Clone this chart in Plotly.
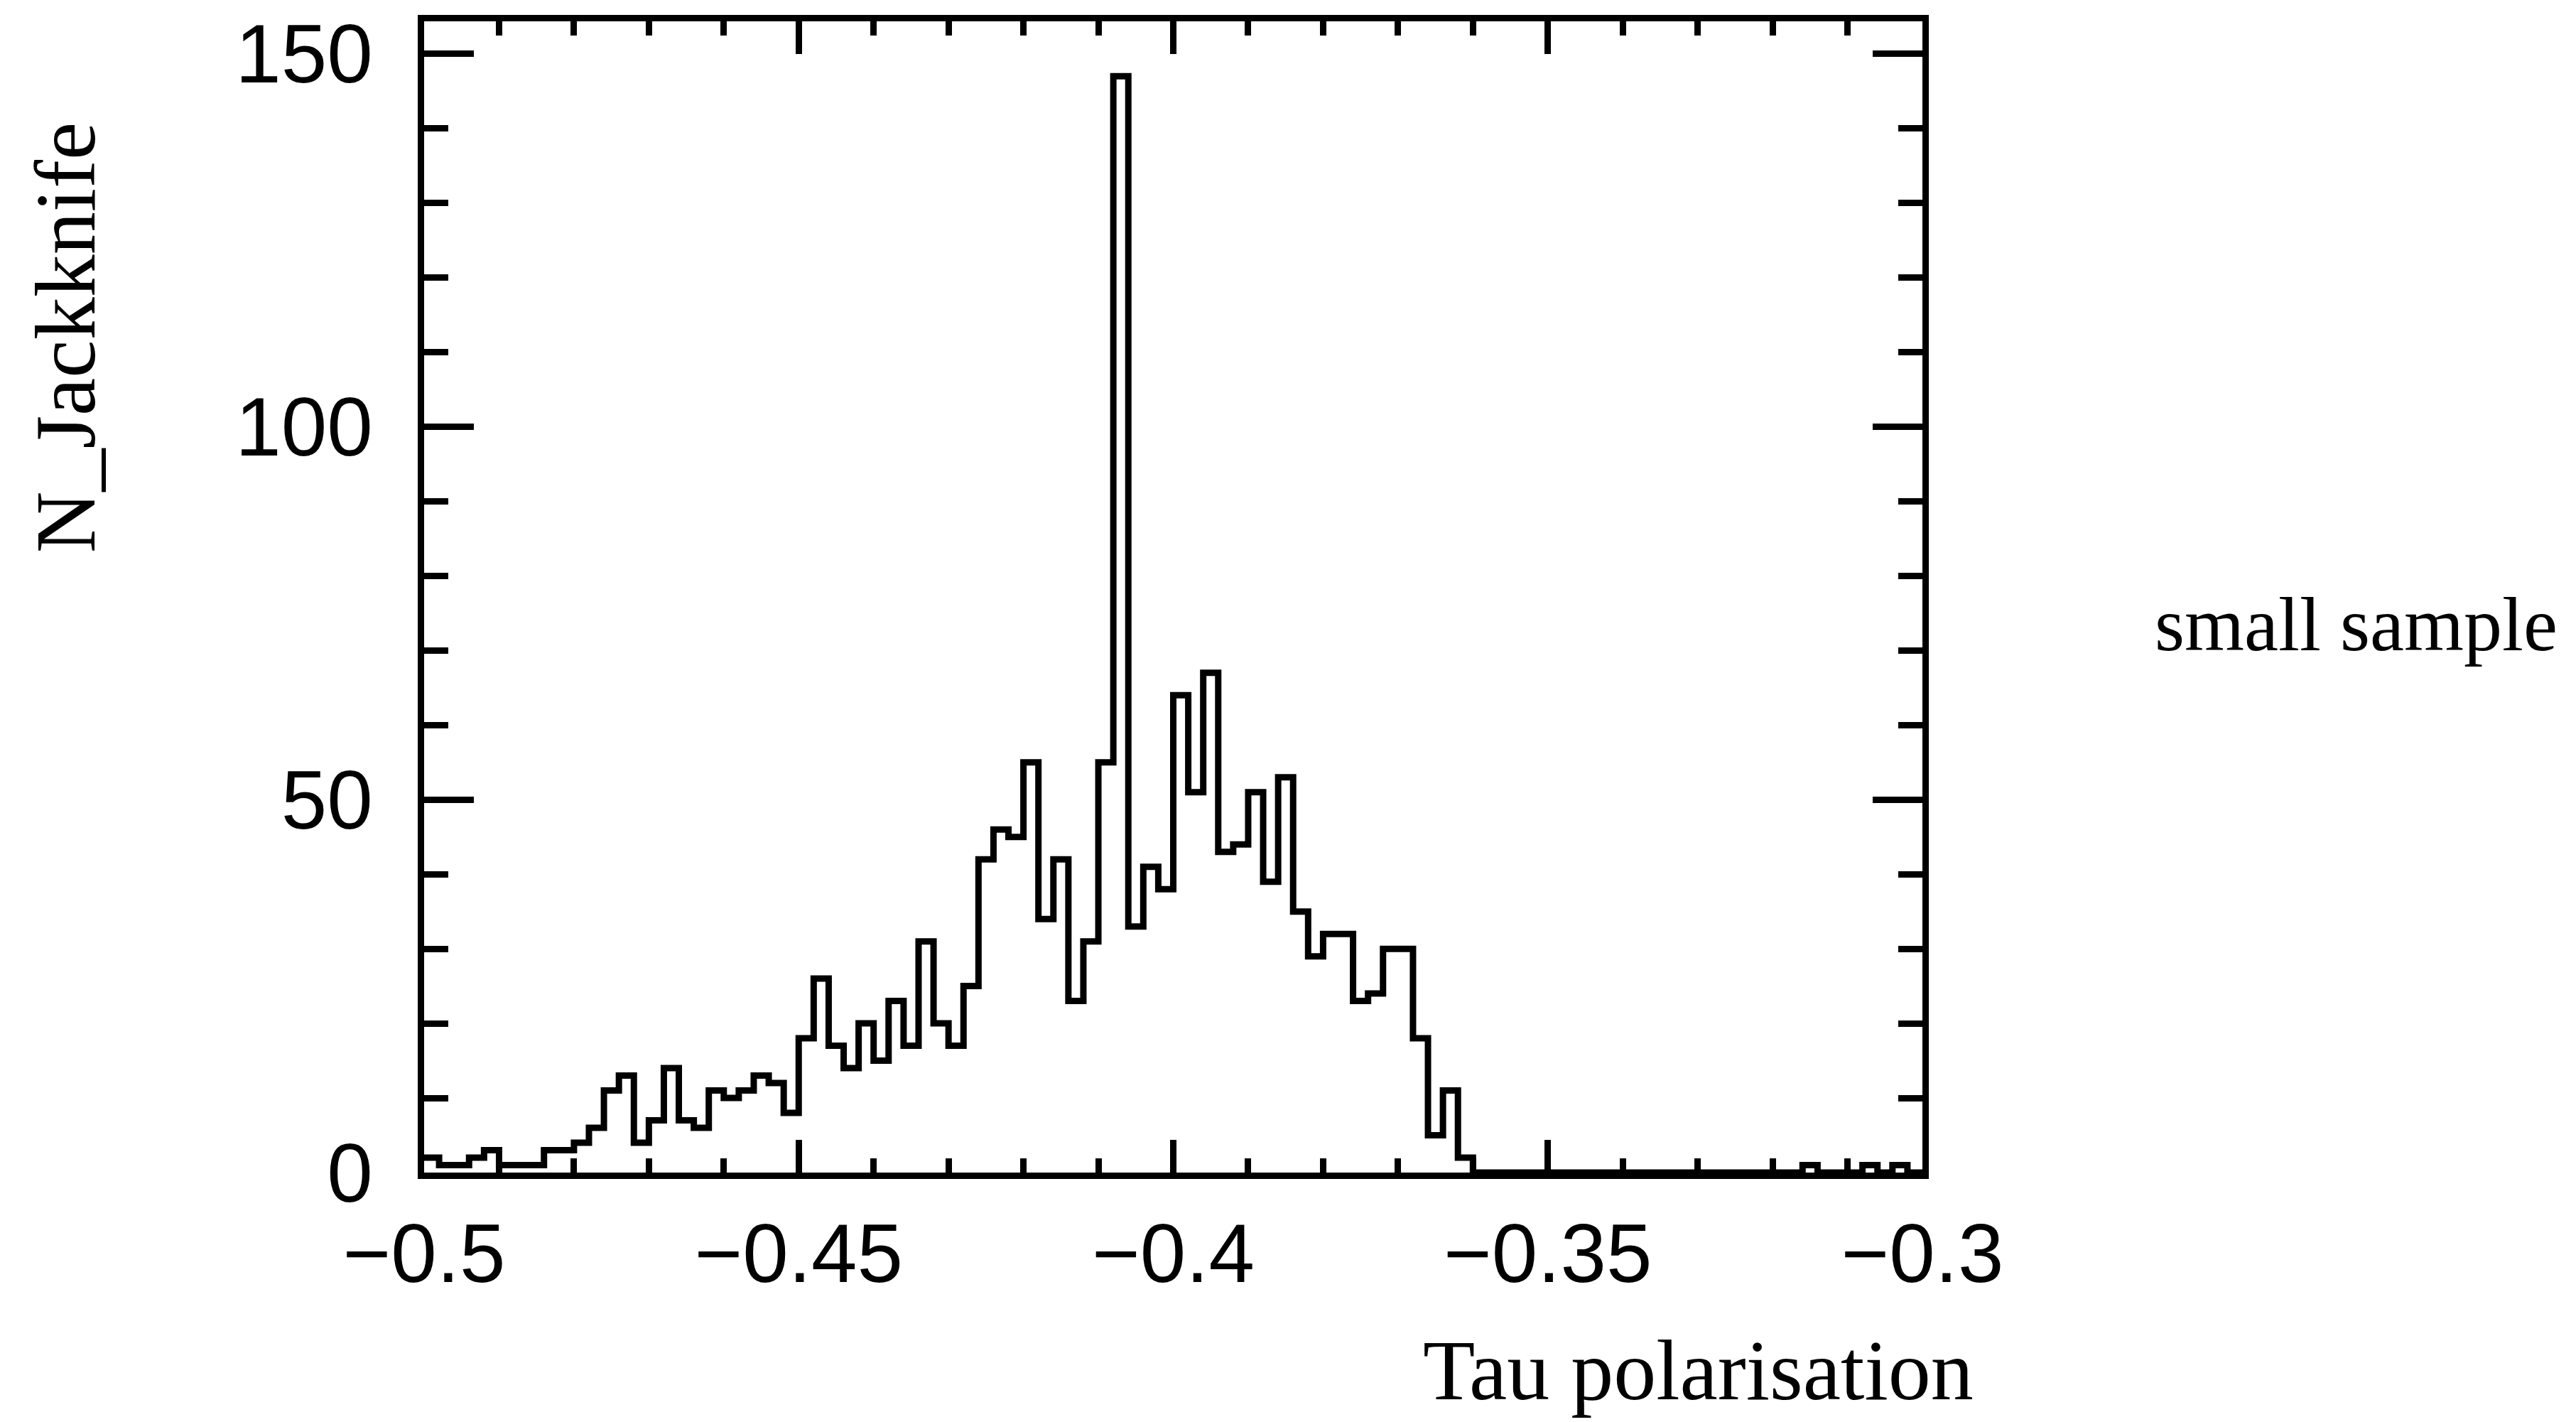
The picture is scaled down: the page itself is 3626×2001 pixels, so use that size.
import plotly.graph_objects as go

# ---- data -------------------------------------------------------------
x_lo = -0.5
x_hi = -0.3
n_bins = 100
counts = [
    2, 1, 1, 2, 3, 1, 1, 1, 3, 3,
    4, 6, 11, 13, 4, 7, 14, 7, 6, 11,
    10, 11, 13, 12, 8, 18, 26, 17, 14, 20,
    15, 23, 17, 31, 20, 17, 25, 42, 46, 45,
    55, 34, 42, 23, 31, 55, 147, 33, 41, 38,
    64, 51, 67, 43, 44, 51, 39, 53, 35, 29,
    32, 32, 23, 24, 30, 30, 18, 5, 11, 2,
    0, 0, 0, 0, 0, 0, 0, 0, 0, 0,
    0, 0, 0, 0, 0, 0, 0, 0, 0, 0,
    0, 0, 1, 0, 0, 0, 1, 0, 1, 0,
]
x_tickvals = [-0.5, -0.45, -0.4, -0.35, -0.3]
x_ticktext = ["\u22120.5", "\u22120.45", "\u22120.4", "\u22120.35", "\u22120.3"]
y_tickvals = [0, 50, 100, 150]
y_ticktext = ["0", "50", "100", "150"]
x_title = "Tau polarisation"
y_title = "N_Jackknife"
legend_text = "small sample"

# bin edges of the histogram
bin_w = (x_hi - x_lo) / n_bins
edges = [x_lo + i * bin_w for i in range(n_bins + 1)]
step_y = counts + [counts[-1]]
y_max = 1.05 * max(counts)

# ---- figure -----------------------------------------------------------
W, H = 3626, 2001
L, R, T, B = 597, 920, 20, 351

fig = go.Figure()
fig.add_trace(go.Scatter(
    x=edges, y=step_y, mode="lines",
    line=dict(shape="hv", color="black", width=9),
    hoverinfo="skip", showlegend=False,
))

tick_font = dict(family="Liberation Sans, Arial, sans-serif", size=116, color="black")
title_font = dict(family="Liberation Serif, Times New Roman, serif", size=120, color="black")

fig.update_layout(
    width=W, height=H,
    margin=dict(l=L, r=R, t=T, b=B, pad=0),
    paper_bgcolor="white", plot_bgcolor="white",
    showlegend=False,
    xaxis=dict(
        range=[x_lo, x_hi], showgrid=False, zeroline=False,
        showline=True, linecolor="black", linewidth=9, mirror="ticks",
        ticks="inside", ticklen=46, tickwidth=9, tickcolor="black",
        tickvals=x_tickvals, ticktext=x_ticktext, tickfont=tick_font,
        ticklabelstandoff=6,
        minor=dict(ticks="inside", ticklen=20, tickwidth=9, tickcolor="black",
                   dtick=0.01, tick0=x_lo, showgrid=False),
    ),
    yaxis=dict(
        range=[0, y_max], showgrid=False, zeroline=False,
        showline=True, linecolor="black", linewidth=9, mirror="ticks",
        ticks="inside", ticklen=70, tickwidth=9, tickcolor="black",
        tickvals=y_tickvals, ticktext=y_ticktext, tickfont=tick_font,
        ticklabelstandoff=40,
        minor=dict(ticks="inside", ticklen=34, tickwidth=9, tickcolor="black",
                   dtick=10, tick0=0, showgrid=False),
    ),
)

pw = W - L - R
ph = H - T - B

def px_x(px):
    return (px - L) / pw

def px_y(py):
    return (H - B - py) / ph

fig.add_annotation(text=x_title, xref="paper", yref="paper",
                   x=px_x(2390), y=px_y(1930), xanchor="center", yanchor="middle",
                   showarrow=False, font=title_font)
fig.add_annotation(text=y_title, xref="paper", yref="paper",
                   x=px_x(92), y=px_y(468), xanchor="center", yanchor="middle",
                   textangle=-90, showarrow=False, font=title_font)
fig.add_annotation(text=legend_text, xref="paper", yref="paper",
                   x=px_x(3316), y=px_y(874), xanchor="center", yanchor="middle",
                   showarrow=False,
                   font=dict(family="Liberation Serif, Times New Roman, serif", size=108, color="black"))

fig.write_html("out.html", config={"displayModeBar": False})
